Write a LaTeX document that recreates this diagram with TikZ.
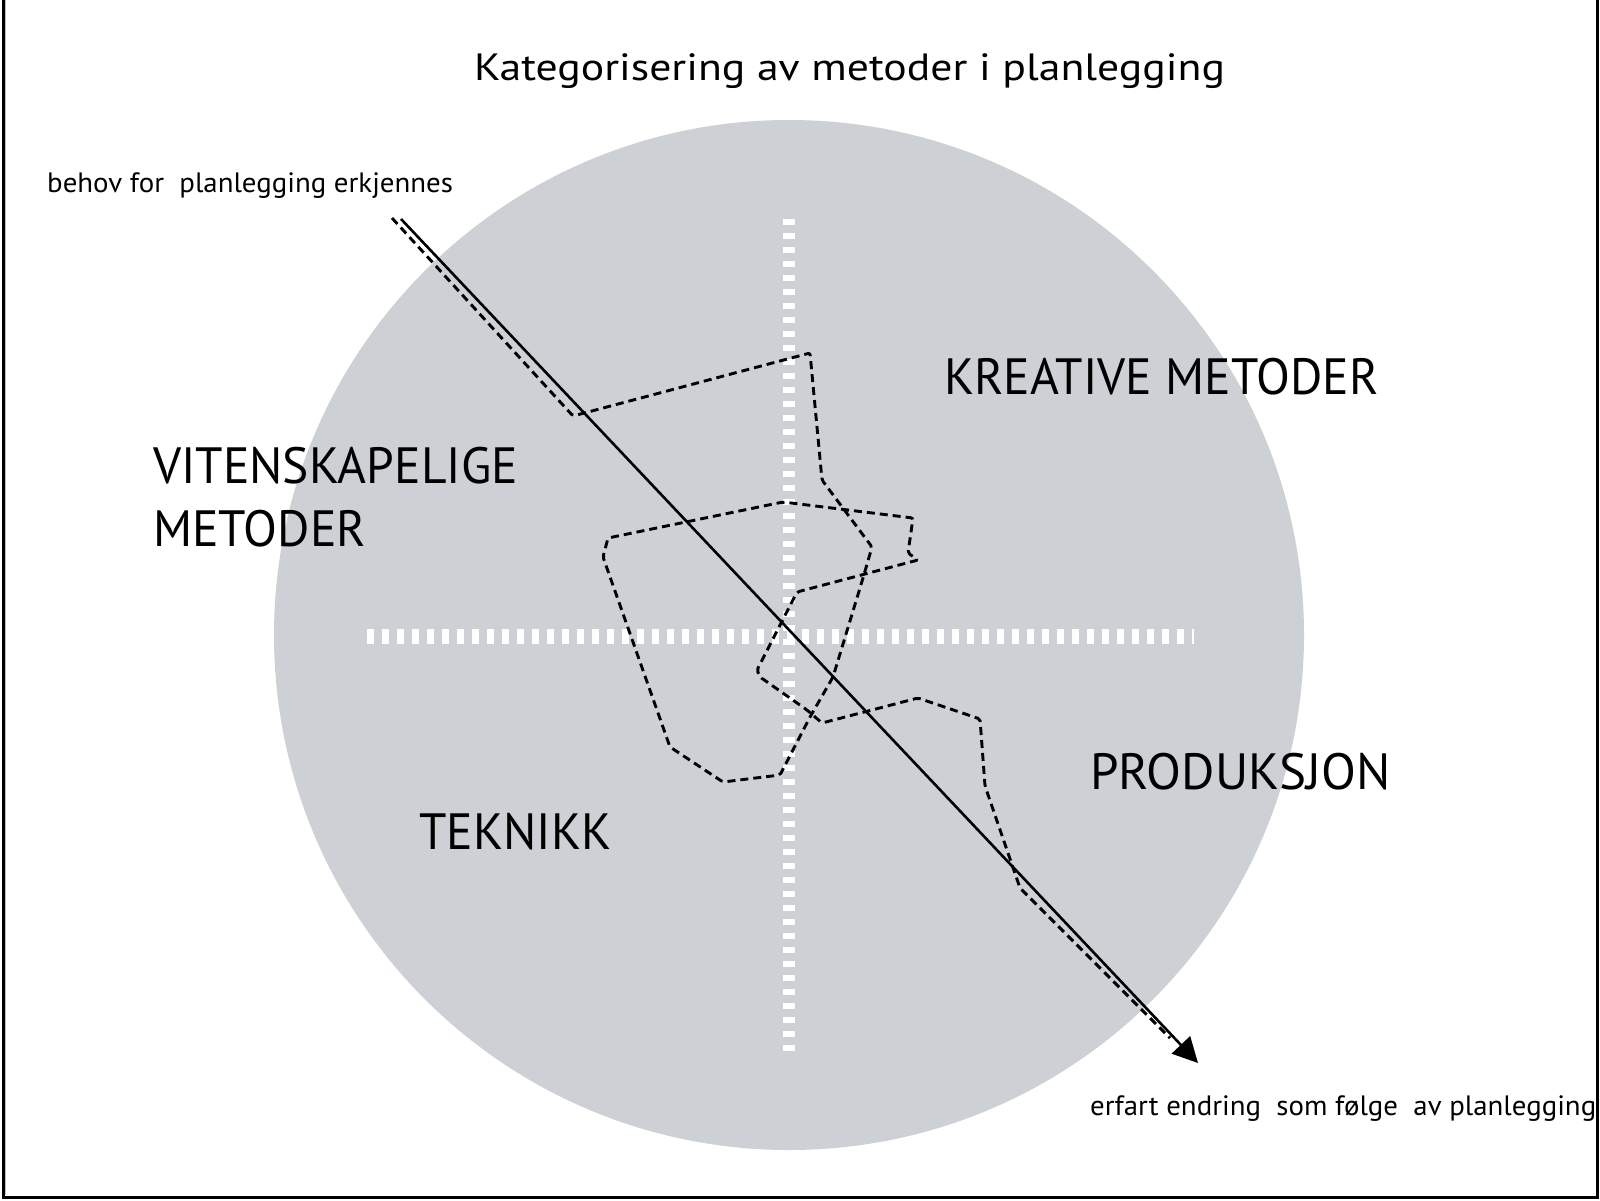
\documentclass[tikz,border=0pt]{standalone}
\usepackage{fontspec}
\setmainfont{PT Sans}
\newfontfamily\titlefont[FakeStretch=1.15]{PT Sans}
\newfontfamily\bigfont[FakeStretch=0.97]{PT Sans}
\newfontfamily\smallfont[FakeStretch=1.03]{PT Sans}
\usetikzlibrary{arrows.meta}
\definecolor{disc}{RGB}{205,208,212}
\definecolor{edgepink}{RGB}{240,170,190}
\begin{document}
\begin{tikzpicture}[x=1pt,y=-1pt,
  lbl/.style={anchor=base west, inner sep=0pt},
  bigtxt/.style={lbl, font=\bigfont\fontsize{51}{55}\selectfont},
  smalltxt/.style={lbl, font=\smallfont\fontsize{28}{31}\selectfont},
  crossline/.style={white, line width=#1},
  pathdash/.style={line width=2.9pt, dash pattern=on 8pt off 5pt, line join=round, rounded corners=2pt},
  mainarrow/.style={line width=2.6pt, -{Triangle[length=25pt,width=25pt]}}]
\useasboundingbox (0,0) rectangle (1600,1200);
\fill[white] (0,0) rectangle (1600,1200);
% frame
\draw[line width=3pt] (3,0) -- (3,1197.5) -- (1597,1197.5) -- (1597,0);
\draw[edgepink, line width=1.5pt] (5.5,0) -- (5.5,1195);
% disc
\fill[disc] (789,635) circle[radius=515pt];
% white dashed cross
\coordinate (vtop) at (789,219);
\coordinate (vbot) at (789,1056);
\coordinate (hleft) at (367,636);
\coordinate (hright) at (1194,636);
\draw[crossline=12pt, dash pattern=on 6pt off 8pt] (vtop) -- (vbot);
\draw[crossline=15pt, dash pattern=on 7pt off 8pt] (hleft) -- (hright);
% dashed wandering path
\draw[pathdash] (392,218) -- (573,416) -- (810,353) -- (822,480) -- (872,547)
  -- (863,578) -- (833,677) -- (810,717) -- (780,775) -- (723,782) -- (670,747)
  -- (603,557) -- (608,538) -- (783,502) -- (913,518) -- (908,553) -- (918,560)
  -- (797,592) -- (757,670) -- (760,677) -- (807,710) -- (822,723) -- (918,698)
  -- (980,719) -- (985,786) -- (1020,888) -- (1170,1038);
% main arrow
\coordinate (start) at (401,219);
\coordinate (end) at (1198,1063);
\draw[mainarrow] (start) -- (end);
% texts
\node[lbl, font=\titlefont\fontsize{38}{42}\selectfont] (title) at (474,80) {Kategorisering av metoder i planlegging};
\node[smalltxt] (behov) at (47,192) {behov for\ \ planlegging erkjennes};
\node[smalltxt] (erfart) at (1090,1115) {erfart endring\ \ som følge\ \ av planlegging};
\node[bigtxt] (kreative) at (944,394) {KREATIVE METODER};
\node[bigtxt] (viten) at (153,483) {VITENSKAPELIGE};
\node[bigtxt] (metoder) at (153,546) {METODER};
\node[bigtxt, font=\fontsize{51}{55}\selectfont] (produksjon) at (1090,789) {PRODUKSJON};
\node[bigtxt] (teknikk) at (419,849) {TEKNIKK};
\end{tikzpicture}
\end{document}
